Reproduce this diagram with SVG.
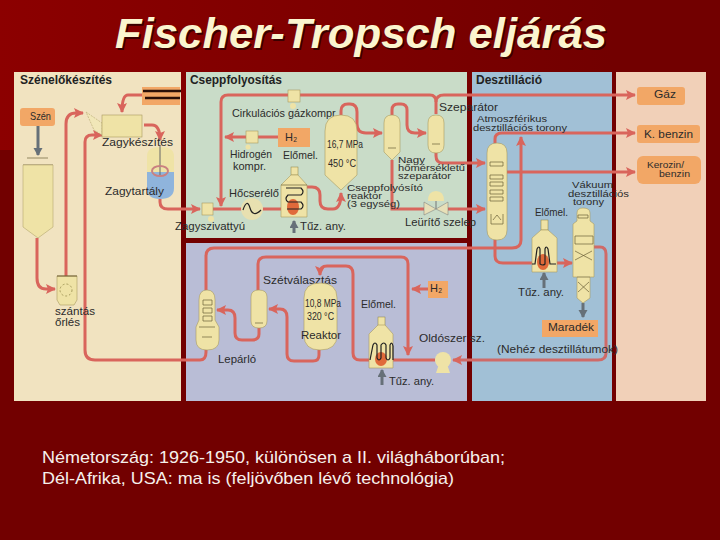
<svg xmlns="http://www.w3.org/2000/svg" width="720" height="540" viewBox="0 0 720 540">
<defs>
<marker id="a" markerUnits="userSpaceOnUse" markerWidth="11" markerHeight="10" refX="9" refY="5" orient="auto"><path d="M0 0L10 5L0 10L2 5Z" fill="#d9655c"/></marker>
<marker id="g" markerUnits="userSpaceOnUse" markerWidth="11" markerHeight="10" refX="7" refY="4.5" orient="auto"><path d="M0 0L8 4.5L0 9Z" fill="#667078"/></marker>
<linearGradient id="bg" x1="0" y1="0" x2="1" y2="0"><stop offset="0" stop-color="#8c0000"/><stop offset=".85" stop-color="#720000"/></linearGradient>
</defs>
<style>
text{font-family:"Liberation Sans",Arial,sans-serif;font-size:11px;fill:#2b2b2b}
.h{font-weight:bold;font-size:12px;fill:#222}
.s{font-size:9px}
.p{fill:none;stroke:#d9655c;stroke-width:3}
.gy{fill:none;stroke:#667078;stroke-width:3}
.v{fill:#efe3a6;stroke:#a89a60;stroke-width:.6}
.o{fill:#f2a766}
.d{fill:none;stroke:#6a6038;stroke-width:.7}
.c{fill:none;stroke:#222;stroke-width:1.2}
.f{fill:#e06a3a}
</style>
<rect width="720" height="540" fill="#720000"/>
<rect width="720" height="150" fill="url(#bg)"/>
<g id="panels">
<rect x="14" y="72" width="167" height="329" fill="#f1e3c0"/>
<rect x="186" y="72" width="281" height="166" fill="#c9dcc8"/>
<rect x="186" y="243" width="281" height="158" fill="#b9bdd6"/>
<rect x="472" y="72" width="140" height="329" fill="#a1c0d6"/>
<rect x="616" y="72" width="90" height="329" fill="#f1d0b8"/>
</g>
<g id="title">
<text x="116.500" y="49.500" lengthAdjust="spacingAndGlyphs" textLength="492" style="font-size:42px;font-weight:bold;font-style:italic;fill:#3a0000">Fischer-Tropsch eljárás</text>
<text x="115" y="48" lengthAdjust="spacingAndGlyphs" textLength="492" style="font-size:42px;font-weight:bold;font-style:italic;fill:#fbf5cf">Fischer-Tropsch eljárás</text>
</g>
<g id="connectors">
<path class="p" d="M66 276V124Q66 113 76 113H83" marker-end="url(#a)"/>
<path class="p" d="M85 350V142Q85 135 92 135H102" marker-end="url(#a)"/>
<path class="p" d="M85 350Q85 360 95 360H200Q206 360 206 352V350"/>
<path class="p" d="M37 238V278Q37 289 46 289H55" marker-end="url(#a)"/>
<path class="p" d="M142 95H128Q122 95 122 112" marker-end="url(#a)"/>
<path class="p" d="M144 125H152Q160 125 160 140" marker-end="url(#a)"/>
<path class="p" d="M160 199V202Q160 209 168 209H200" marker-end="url(#a)"/>
<path class="p" d="M288 95H228Q221 95 221 102V206" marker-end="url(#a)"/>
<path class="p" d="M300 95H430Q436 95 436 102V114"/>
<path class="p" d="M436 102Q436 95 444 95H635" marker-end="url(#a)"/>
<path class="p" d="M278 137H225" marker-end="url(#a)"/>
<path class="p" d="M212 209H282"/>
<path class="p" d="M307 187H312Q320 187 320 195V201Q320 209 328 209H333Q341 209 341 193" marker-end="url(#a)"/>
<path class="p" d="M341 115V111Q341 104 348 104H350Q357 104 357 112V124Q357 133 366 133H382" marker-end="url(#a)"/>
<path class="p" d="M392 115V110Q392 104 398 104H401Q407 104 407 110V125Q407 133 415 133H426" marker-end="url(#a)"/>
<path class="p" d="M392 160V209H424"/>
<path class="p" d="M448 209H485" marker-end="url(#a)"/>
<path class="p" d="M436 152V156Q436 163 443 163H485" marker-end="url(#a)"/>
<path class="p" d="M495 143V139Q495 133 502 133H635" marker-end="url(#a)"/>
<path class="p" d="M507 172H635" marker-end="url(#a)"/>
<path class="p" d="M206 290V256Q206 248 214 248H512Q521 248 521 240V137" marker-end="url(#a)"/>
<path class="p" d="M495 240V256Q495 263 503 263H572" marker-end="url(#a)"/>
<path class="p" d="M258 290V264Q258 257 266 257H401Q408 257 408 264V355" marker-end="url(#a)"/>
<path class="p" d="M259 328V334Q259 340 252 340H242Q235 340 235 333V318Q235 310 228 310H217" marker-end="url(#a)"/>
<path class="p" d="M319 350V355Q319 361 313 361H294Q287 361 287 354V317Q287 309 280 309H269" marker-end="url(#a)"/>
<path class="p" d="M369 360H360Q353 360 353 353V274Q353 266 346 266H327Q320 266 320 273V275" marker-end="url(#a)"/>
<path class="p" d="M392 360H435"/>
<path class="p" d="M428 289H412" marker-end="url(#a)"/>
<path d="M594 247H600Q606 247 606 254V353Q606 360 598 360H453" fill="none" stroke="#cf6a68" stroke-width="3" marker-end="url(#a)"/>
<path class="gy" d="M38 125V155" marker-end="url(#g)"/>
<path class="gy" d="M294 233V221" marker-end="url(#g)"/>
<path class="gy" d="M382 385V370" marker-end="url(#g)"/>
<path class="gy" d="M544 288V273" marker-end="url(#g)"/>
<path class="gy" d="M583 303V317" marker-end="url(#g)"/>
</g>
<g id="pipes-top"><rect x="142" y="87" width="38" height="18" fill="#f2a766"/><path d="M143 91H181M145 98H180" stroke="#2a1008" stroke-width="2.400"/></g>
<g id="szen"><rect class="o" x="20" y="108" width="35" height="18" rx="3"/><text x="30" y="120" lengthAdjust="spacingAndGlyphs" textLength="21">Szén</text></g>
<g id="bunker"><path class="d" d="M27 158H48M23 165H53"/><path d="M23 165H53V227L38 238L23 227Z" fill="#efe3a6" stroke="#a89a60" stroke-width=".5"/></g>
<g id="zagykeszites"><path d="M86 112L102 123V135L94 130Z" fill="#f1e7b8" stroke="#a89a60" stroke-dasharray="2 1" stroke-width=".5"/><rect class="v" x="102" y="115" width="40" height="22"/><text x="102" y="146" lengthAdjust="spacingAndGlyphs" textLength="71">Zagykészítés</text></g>
<g id="zagytartaly"><path d="M147 172V156Q147 147 160 147Q174 147 174 156V172Z" fill="#efe3a6"/><path d="M147 172H174V188Q174 199 160 199Q147 199 147 188Z" fill="#8fb4dc"/><path d="M160 145V175" stroke="#666" stroke-width="1"/><ellipse cx="160" cy="171" rx="8" ry="5" fill="none" stroke="#c98080" stroke-width="2"/><text x="105" y="195" lengthAdjust="spacingAndGlyphs" textLength="59">Zagytartály</text></g>
<g id="orles"><path class="v" d="M57 276H77V300L74 305H60L57 300Z"/><circle cx="66" cy="290" r="6" fill="none" stroke="#8a7f40" stroke-dasharray="2 2" stroke-width=".7"/><path d="M57 276H77" stroke="#6d5b30"/><text x="55" y="315" lengthAdjust="spacingAndGlyphs" textLength="40">szántás</text><text x="55" y="326" lengthAdjust="spacingAndGlyphs" textLength="25">őrlés</text></g>
<text class="h" x="20" y="84" lengthAdjust="spacingAndGlyphs" textLength="92">Szénelőkészítés</text>
<text class="h" x="190" y="84" lengthAdjust="spacingAndGlyphs" textLength="92">Cseppfolyosítás</text>
<text class="h" x="476" y="84" lengthAdjust="spacingAndGlyphs" textLength="66">Desztilláció</text>
<g id="zagyszivattyu"><rect class="v" x="202" y="203" width="11" height="12"/><circle cx="211" cy="219" r="3" fill="#efe3a6"/><text x="175" y="230" lengthAdjust="spacingAndGlyphs" textLength="70">Zagyszivattyú</text></g>
<g id="cirkulacios"><rect class="v" x="288" y="90" width="12" height="12"/><circle cx="293" cy="106" r="3" fill="#efe3a6"/><text x="232" y="117" lengthAdjust="spacingAndGlyphs" textLength="106">Cirkulációs gázkompr.</text></g>
<g id="h1"><rect class="o" x="278" y="128" width="32" height="19"/><text x="285" y="141">H₂</text></g>
<g id="hidrogen"><rect class="v" x="246" y="131" width="12" height="12"/><circle cx="248" cy="147" r="2.500" fill="#efe3a6"/><text x="230" y="158" lengthAdjust="spacingAndGlyphs" textLength="42">Hidrogén</text><text x="233" y="170" lengthAdjust="spacingAndGlyphs" textLength="33">kompr.</text></g>
<g id="elomel1"><rect x="291" y="167" width="7" height="8" fill="#efe3a6" stroke="#8a7f40" stroke-width=".5"/><path class="v" d="M281 185L291 175H298L307 185V217H281Z"/><path class="d" d="M281 185H307"/><ellipse class="f" cx="293" cy="207" rx="6" ry="8"/><path class="c" d="M286 188H301Q305 192 301 195H288Q284 199 288 202H301Q305 206 301 209H287"/><text x="283" y="159" lengthAdjust="spacingAndGlyphs" textLength="35">Előmel.</text><text x="300" y="230" lengthAdjust="spacingAndGlyphs" textLength="46">Tűz. any.</text></g>
<g id="hocserelo"><circle cx="252" cy="209" r="11" fill="#e8e0b0"/><path d="M243 210Q247 198 250 208T261 210" class="c"/><text x="229" y="197" lengthAdjust="spacingAndGlyphs" textLength="50">Hőcserélő</text></g>
<g id="reaktor1"><path class="v" d="M325 175V131Q325 115 341 115Q357 115 357 131V175L341 190Z"/><text x="327" y="148" lengthAdjust="spacingAndGlyphs" textLength="36">16,7 MPa</text><text x="328" y="167" lengthAdjust="spacingAndGlyphs" textLength="28">450 °C</text><text class="s" x="347" y="191" lengthAdjust="spacingAndGlyphs" textLength="76">Cseppfolyósító</text><text class="s" x="347" y="199" lengthAdjust="spacingAndGlyphs" textLength="35">reaktor</text><text class="s" x="347" y="207" lengthAdjust="spacingAndGlyphs" textLength="53">(3 egység)</text></g>
<g id="szep1"><path class="v" d="M384 123Q384 115 392 115Q400 115 400 123V152L392 160L384 152Z"/><path class="d" d="M388 148H396"/><text class="s" x="398" y="163" lengthAdjust="spacingAndGlyphs" textLength="27">Nagy</text><text class="s" x="398" y="171" lengthAdjust="spacingAndGlyphs" textLength="67">hőmérsékletű</text><text class="s" x="398" y="179" lengthAdjust="spacingAndGlyphs" textLength="53">szeparátor</text></g>
<g id="szep2"><path class="v" d="M428 123Q428 115 436 115Q444 115 444 123V145Q444 153 436 153Q428 153 428 145Z"/><path class="d" d="M432 144H440"/><text x="439" y="111" lengthAdjust="spacingAndGlyphs" textLength="59">Szeparátor</text></g>
<g id="szelep"><path d="M436 201V209" stroke="#777"/><path d="M424 202L436 209L424 215ZM448 202L436 209L448 215Z" fill="#e7e0b8" stroke="#777" stroke-width=".5"/><path d="M428 201Q428 191 436 191Q444 191 444 201Z" fill="#efe3a6"/><text x="405" y="226" lengthAdjust="spacingAndGlyphs" textLength="71">Leürítő szelep</text></g>
<g id="atmos"><path class="v" d="M487 153Q487 143 497 143Q507 143 507 153V230Q507 240 497 240Q487 240 487 230Z"/><path class="d" d="M490 162H503V166H490ZM490 175H503V179H490ZM490 182H503V186H490ZM490 190H503V194H490ZM490 197H503V201H490ZM491 214V224H503V214M493 220L497 215L501 220"/><text class="s" x="477" y="122" lengthAdjust="spacingAndGlyphs" textLength="70">Atmoszférikus</text><text class="s" x="473" y="131" lengthAdjust="spacingAndGlyphs" textLength="94">desztillációs torony</text></g>
<g id="gaz"><rect class="o" x="637" y="87" width="48" height="18" rx="3"/><text x="654" y="98" lengthAdjust="spacingAndGlyphs" textLength="22">Gáz</text></g>
<g id="kbenzin"><rect class="o" x="637" y="125" width="63" height="18" rx="3"/><text x="644" y="138" lengthAdjust="spacingAndGlyphs" textLength="49">K. benzin</text></g>
<g id="kerozin"><rect class="o" x="637" y="156" width="64" height="28" rx="6"/><text class="s" x="647" y="168" lengthAdjust="spacingAndGlyphs" textLength="37">Kerozin/</text><text class="s" x="659" y="177" lengthAdjust="spacingAndGlyphs" textLength="31">benzin</text></g>
<g id="vakuum"><path class="v" d="M573 277V224L577 221V213Q577 208 583 208Q590 208 590 213V221L594 224V277H590V298L583 303L577 298V277Z"/><path class="d" d="M578 215H588V218H578ZM575 236H593V244H575ZM575 251L592 260M592 251L575 260M578 282L589 292M589 282L578 292M577 277H590"/><text class="s" x="572" y="188" lengthAdjust="spacingAndGlyphs" textLength="41">Vákuum</text><text class="s" x="568" y="196.500" lengthAdjust="spacingAndGlyphs" textLength="61">desztillációs</text><text class="s" x="573" y="205" lengthAdjust="spacingAndGlyphs" textLength="31">torony</text></g>
<g id="elomel2"><rect x="541" y="220" width="7" height="10" fill="#efe3a6" stroke="#8a7f40" stroke-width=".5"/><path class="v" d="M532 238L541 230H548L557 238V272H532Z"/><ellipse class="f" cx="543" cy="262" rx="6" ry="8"/><path class="c" d="M532 264H535L537 249Q539 245 540 249V264Q543 266 545 264V249Q546 245 548 249L550 264H556"/><text x="535" y="216" lengthAdjust="spacingAndGlyphs" textLength="33">Előmel.</text><text x="518" y="296" lengthAdjust="spacingAndGlyphs" textLength="46">Tűz. any.</text></g>
<g id="maradek"><rect class="o" x="542" y="320" width="56" height="17"/><text x="548" y="331" lengthAdjust="spacingAndGlyphs" textLength="46">Maradék</text></g>
<text x="497" y="353" lengthAdjust="spacingAndGlyphs" textLength="121">(Nehéz desztillátumok)</text>
<g id="lepar"><path class="v" d="M199 320V300Q199 290 207 290Q215 290 215 300V320L219 327V340Q219 350 207 350Q196 350 196 340V327Z"/><path class="d" d="M203 300H212V305H203ZM203 308H212V313H203ZM203 316H212V321H203ZM199 327H215M202 337H212"/><text x="218" y="363" lengthAdjust="spacingAndGlyphs" textLength="38">Lepárló</text></g>
<g id="szeto"><path class="v" d="M251 297Q251 290 259 290Q267 290 267 297V321Q267 328 259 328Q251 328 251 321Z"/><path class="d" d="M255 323H263"/><text x="263" y="284" lengthAdjust="spacingAndGlyphs" textLength="74">Szétválasztás</text></g>
<g id="reaktor2"><path class="v" d="M304 298Q304 283 320 283Q337 283 337 298V335Q337 350 320 350Q304 350 304 335Z"/><text x="305" y="307" lengthAdjust="spacingAndGlyphs" textLength="36">10,8 MPa</text><text x="307" y="320" lengthAdjust="spacingAndGlyphs" textLength="27">320 °C</text><text x="301" y="339" lengthAdjust="spacingAndGlyphs" textLength="40">Reaktor</text></g>
<g id="elomel3"><rect x="378" y="317" width="7" height="9" fill="#efe3a6" stroke="#8a7f40" stroke-width=".5"/><path class="v" d="M369 334L378 325H385L393 334V368H369Z"/><ellipse class="f" cx="381" cy="359" rx="6" ry="7"/><path class="c" d="M370 360L373 345Q375 341 377 345V358Q379 362 381 358V345Q384 341 386 345V358Q388 362 390 358V345Q392 341 393 346V360"/><text x="361" y="308" lengthAdjust="spacingAndGlyphs" textLength="35">Előmel.</text><text x="389" y="385" lengthAdjust="spacingAndGlyphs" textLength="45">Tűz. any.</text></g>
<g id="h2"><rect class="o" x="428" y="281" width="20" height="17"/><text x="430" y="292">H₂</text></g>
<g id="oldoszer"><circle cx="443" cy="360" r="8" fill="#efe3a6"/><path d="M436 373H450L447 364H439Z" fill="#efe3a6"/><text x="419" y="342" lengthAdjust="spacingAndGlyphs" textLength="66">Oldószer sz.</text></g>
<g id="footer">
<text x="42" y="463" lengthAdjust="spacingAndGlyphs" textLength="463" style="font-size:17px;fill:#f6f0ec">Németország: 1926-1950, különösen a II. világháborúban;</text>
<text x="42" y="484" lengthAdjust="spacingAndGlyphs" textLength="412" style="font-size:17px;fill:#f6f0ec">Dél-Afrika, USA: ma is (feljövőben lévő technológia)</text>
</g>
</svg>
